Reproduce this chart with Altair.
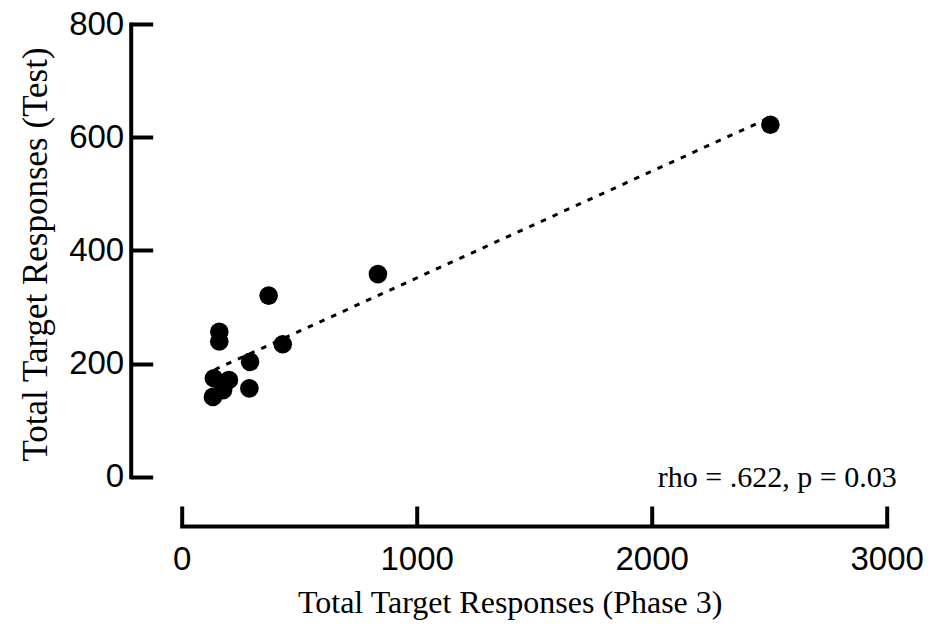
import altair as alt
import pandas as pd

# Data
phase3 = [2505, 835, 370, 160, 160, 430, 291, 288, 137, 201, 133, 176]
test = [622, 358, 320, 256, 239, 234, 203, 156, 174, 171, 141, 153]

fit_x = [140, 2505]
fit_y = [189, 635]

x_ticks = [0, 1000, 2000, 3000]
y_ticks = [0, 200, 400, 600, 800]

ann_x = [3000]
ann_y = [0]
ann_text = ["rho = .622, p = 0.03"]

pts = pd.DataFrame({"x": phase3, "y": test})
fit = pd.DataFrame({"x": fit_x, "y": fit_y})
ann = pd.DataFrame({"x": ann_x, "y": ann_y, "t": ann_text})

common_axis = dict(
    domainColor="black",
    domainWidth=4,
    domainCap="square",
    tickColor="black",
    tickWidth=4,
    labelColor="black",
    labelFont="Liberation Sans",
    labelFontSize=33,
    labelFlush=False,
    labelOverlap=False,
    titleFont="Liberation Serif",
    titleFontWeight="normal",
    titleColor="black",
    grid=False,
)

x_enc = alt.X(
    "x:Q",
    scale=alt.Scale(domain=[0, 3000], nice=False, zero=False),
    axis=alt.Axis(
        title="Total Target Responses (Phase 3)",
        values=x_ticks,
        format="d",
        offset=49.3,
        tickSize=alt.ExprRef(expr="-20"),
        labelPadding=37,
        titleFontSize=32,
        titleX=328,
        titleY=86,
        titleBaseline="alphabetic",
        **common_axis,
    ),
)
y_enc = alt.Y(
    "y:Q",
    scale=alt.Scale(domain=[0, 800], nice=False, zero=False),
    axis=alt.Axis(
        title="Total Target Responses (Test)",
        values=y_ticks,
        format="d",
        offset=51,
        tickSize=alt.ExprRef(expr="-22"),
        labelPadding=29,
        titleFontSize=35,
        titleX=-84.7,
        titleY=230,
        titleBaseline="alphabetic",
        titleAngle=270,
        **common_axis,
    ),
)

line = alt.Chart(fit).mark_line(
    color="black", strokeWidth=3, strokeDash=[5.5, 7.3]
).encode(x=x_enc, y=y_enc)

points = alt.Chart(pts).mark_circle(
    color="black", size=346, opacity=1
).encode(x="x:Q", y="y:Q")

text = alt.Chart(ann).mark_text(
    font="Liberation Serif", fontSize=30, align="right",
    baseline="alphabetic", dx=10, dy=10, color="black"
).encode(x="x:Q", y="y:Q", text="t:N")

chart = alt.layer(line, points, text).properties(
    width=705,
    height=452.7,
    autosize=alt.AutoSizeParams(type="none"),
    padding={"left": 181.7, "top": 24, "right": 45.3, "bottom": 157.3},
    background="white",
).configure_view(stroke=None)

chart.save("out.html", embed_options={"renderer": "svg", "actions": False})
